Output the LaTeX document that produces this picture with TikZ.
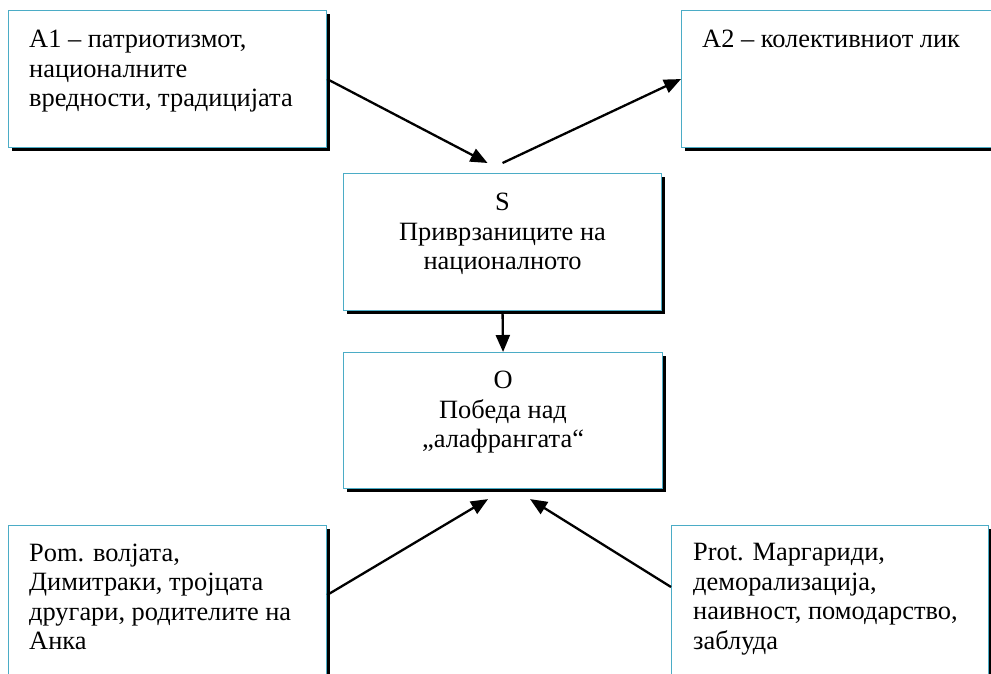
\documentclass[tikz,border=0pt]{standalone}
\usepackage{fontspec}
\setmainfont{Liberation Serif}
\usepackage{xcolor}
\usetikzlibrary{positioning}
\usetikzlibrary{shadows}
\usetikzlibrary{arrows.meta}
\tikzset{>={Triangle[length=17pt,width=14pt]}}
\definecolor{boxline}{RGB}{75,172,198}
\tikzset{
  box/.style={draw=boxline, line width=1.1pt, fill=white, anchor=north west,
    minimum width=318pt, minimum height=137pt, inner sep=0pt,
    drop shadow={shadow xshift=3.5pt, shadow yshift=-3.5pt, opacity=1, fill=black}},
  txt/.style={inner sep=0pt, align=left, font=\fontsize{26.4}{29.5}\selectfont},
  ctxt/.style={txt, align=center},
  link/.style={->, line width=2.3pt}
}

\begin{document}
\begin{tikzpicture}[x=1pt,y=-1pt]
\useasboundingbox (0,0) rectangle (991,674);
\clip (0,0) rectangle (991,674);

\node[box] (a1) at (8,10) {};
\node[box] (a2) at (681,10) {};
\node[box] (s) at (343,173) {};
\node[box, minimum width=319pt, minimum height=136pt] (o) at (343,352) {};
\node[box, minimum height=180pt] (b1) at (8,525) {};
\node[box, minimum width=317pt, minimum height=180pt] (b2) at (671,525) {};

\node[txt, below right=20pt and 21pt of a1.north west] (a1t) {A1 – патриотизмот,\\националните\\вредности, традицијата};
\node[txt, below right=20pt and 21pt of a2.north west] (a2t) {A2 – колективниот лик};
\node[ctxt, below=20pt of s.north] (st) {S\\Приврзаниците на\\националното};
\node[ctxt, below=19pt of o.north] (ot) {O\\Победа над\\„алафрангата“};
\node[txt, below right=18.5pt and 21pt of b1.north west] (b1t) {Pom. волјата,\\Димитраки, тројцата\\другари, родителите на\\Анка};
\node[txt, below right=18.5pt and 22pt of b2.north west] (b2t) {Prot. Маргариди,\\деморализација,\\наивност, помодарство,\\заблуда};

\draw[link] (a1.east) -- ([xshift=-15pt,yshift=10pt]s.north);
\draw[link] ([yshift=10pt]s.north) -- (a2.west);
\draw[link] (s.south) -- (o.north);
\draw[link] ([yshift=-70pt]b1.north east) -- ([xshift=-15pt,yshift=-10pt]o.south);
\draw[link] ([yshift=-62pt]b2.north west) -- ([xshift=27pt,yshift=-10pt]o.south);
\end{tikzpicture}
\end{document}
